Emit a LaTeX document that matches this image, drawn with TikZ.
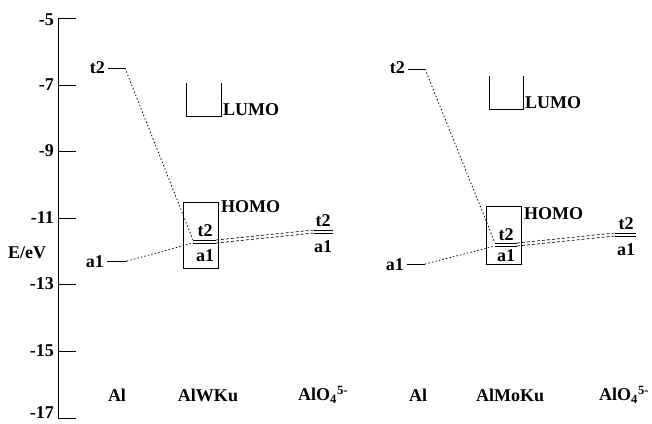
\documentclass[tikz,border=0pt]{standalone}
\usepackage{fontspec}
\setmainfont{Liberation Serif}
\begin{document}
\begin{tikzpicture}[x=1pt,y=-1pt,
  font=\fontsize{18}{20}\selectfont\bfseries,
  every node/.style={inner sep=0pt},
  solidline/.style={line width=1pt},
  level/.style={line width=0.9pt},
  dotlink/.style={line width=0.8pt, dash pattern=on 1.4pt off 2.2pt},
  dashlink/.style={line width=0.7pt, dash pattern=on 3pt off 2pt},
  orbbox/.style={draw, line width=0.9pt, minimum width=35pt},
]
\useasboundingbox (0,0) rectangle (652,423);

% energy axis
\coordinate (axtop) at (58,18);
\coordinate (axbot) at (58,418);
\draw[solidline] (axtop) -- (axbot);
\foreach \lab/\yy/\ly [count=\i] in {-5/18/20,-7/85/85,-9/151/151,-11/218/218,-13/284/284,-15/351/351,-17/418/413}{
  \coordinate (tickL\i) at (58,\yy);
  \coordinate (tickR\i) at (76,\yy);
  \draw[solidline] (tickL\i) -- (tickR\i);
  \node[anchor=east] (ticklab\i) at (54,\ly) {\lab};
}
\node (axislabel) at (27,253) {E/eV};

% ---------- Al / AlWKu / AlO4 (left set) ----------
% Al levels
\coordinate (At2a) at (108,68);  \coordinate (At2b) at (125,68);
\draw[level] (At2a) -- (At2b);
\node[anchor=east] (At2lab) at (105,68) {t2};
\coordinate (Aa1a) at (107,261); \coordinate (Aa1b) at (127,261);
\draw[level] (Aa1a) -- (Aa1b);
\node[anchor=east] (Aa1lab) at (104,262) {a1};

% AlWKu box with t2/a1 levels
\node[orbbox, minimum height=66pt] (Wbox) at (200.5,235) {};
\coordinate (Wt2a) at (193,240); \coordinate (Wt2b) at (216,240);
\coordinate (Wa1a) at (193,243); \coordinate (Wa1b) at (216,243);
\draw[level] (Wt2a) -- (Wt2b);
\draw[level] (Wa1a) -- (Wa1b);
\node (Wt2lab) at (205,231) {t2};
\node (Wa1lab) at (205,256) {a1};
\node[anchor=west] (Whomo) at (221,207) {HOMO};

% LUMO bracket
\coordinate (Wl1) at (186,83);  \coordinate (Wl2) at (186,116);
\coordinate (Wl3) at (221,116); \coordinate (Wl4) at (221,83);
\draw[level] (Wl1) -- (Wl2) -- (Wl3) -- (Wl4);
\node[anchor=west] (Wlumo) at (223,110) {LUMO};

% AlO4 levels
\coordinate (Ot2a) at (314,230); \coordinate (Ot2b) at (333,230);
\coordinate (Oa1a) at (314,233); \coordinate (Oa1b) at (333,233);
\draw[level] (Ot2a) -- (Ot2b);
\draw[level] (Oa1a) -- (Oa1b);
\node (Ot2lab) at (323,221) {t2};
\node (Oa1lab) at (323,247) {a1};

% correlation lines
\draw[dotlink] (At2b) -- (Wt2a);
\draw[dotlink] (Aa1b) -- (Wa1a);
\draw[dashlink] (Wt2b) -- (Ot2a);
\draw[dashlink] (Wa1b) -- (Oa1a);

% ---------- Al / AlMoKu / AlO4 (right set) ----------
\coordinate (Bt2a) at (408,69);  \coordinate (Bt2b) at (425,69);
\draw[level] (Bt2a) -- (Bt2b);
\node[anchor=east] (Bt2lab) at (405,68) {t2};
\coordinate (Ba1a) at (407,264); \coordinate (Ba1b) at (425,264);
\draw[level] (Ba1a) -- (Ba1b);
\node[anchor=east] (Ba1lab) at (404,265) {a1};

\node[orbbox, minimum height=58pt] (Mbox) at (503.5,235) {};
\coordinate (Mt2a) at (495,243); \coordinate (Mt2b) at (517,243);
\coordinate (Ma1a) at (495,246); \coordinate (Ma1b) at (517,246);
\draw[level] (Mt2a) -- (Mt2b);
\draw[level] (Ma1a) -- (Ma1b);
\node (Mt2lab) at (506,235) {t2};
\node (Ma1lab) at (506,256) {a1};
\node[anchor=west] (Mhomo) at (524,214) {HOMO};

\coordinate (Ml1) at (489,76);  \coordinate (Ml2) at (489,109);
\coordinate (Ml3) at (523,109); \coordinate (Ml4) at (523,76);
\draw[level] (Ml1) -- (Ml2) -- (Ml3) -- (Ml4);
\node[anchor=west] (Mlumo) at (525,103) {LUMO};

\coordinate (Pt2a) at (615,233); \coordinate (Pt2b) at (636,233);
\coordinate (Pa1a) at (615,236); \coordinate (Pa1b) at (636,236);
\draw[level] (Pt2a) -- (Pt2b);
\draw[level] (Pa1a) -- (Pa1b);
\node (Pt2lab) at (626,224) {t2};
\node (Pa1lab) at (626,250) {a1};

\draw[dotlink] (Bt2b) -- (Mt2a);
\draw[dotlink] (Ba1b) -- (Ma1a);
\draw[dashlink] (Mt2b) -- (Pt2a);
\draw[dashlink] (Ma1b) -- (Pa1a);

% species labels
\node (sp1) at (117,395) {Al};
\node (sp2) at (208,395) {AlWKu};
\node[anchor=west] (sp3) at (298,395) {AlO\textsubscript{4}\textsuperscript{5-}};
\node (sp4) at (418,395) {Al};
\node (sp5) at (510,395) {AlMoKu};
\node[anchor=west] (sp6) at (599,395) {AlO\textsubscript{4}\textsuperscript{5-}};
\end{tikzpicture}
\end{document}
